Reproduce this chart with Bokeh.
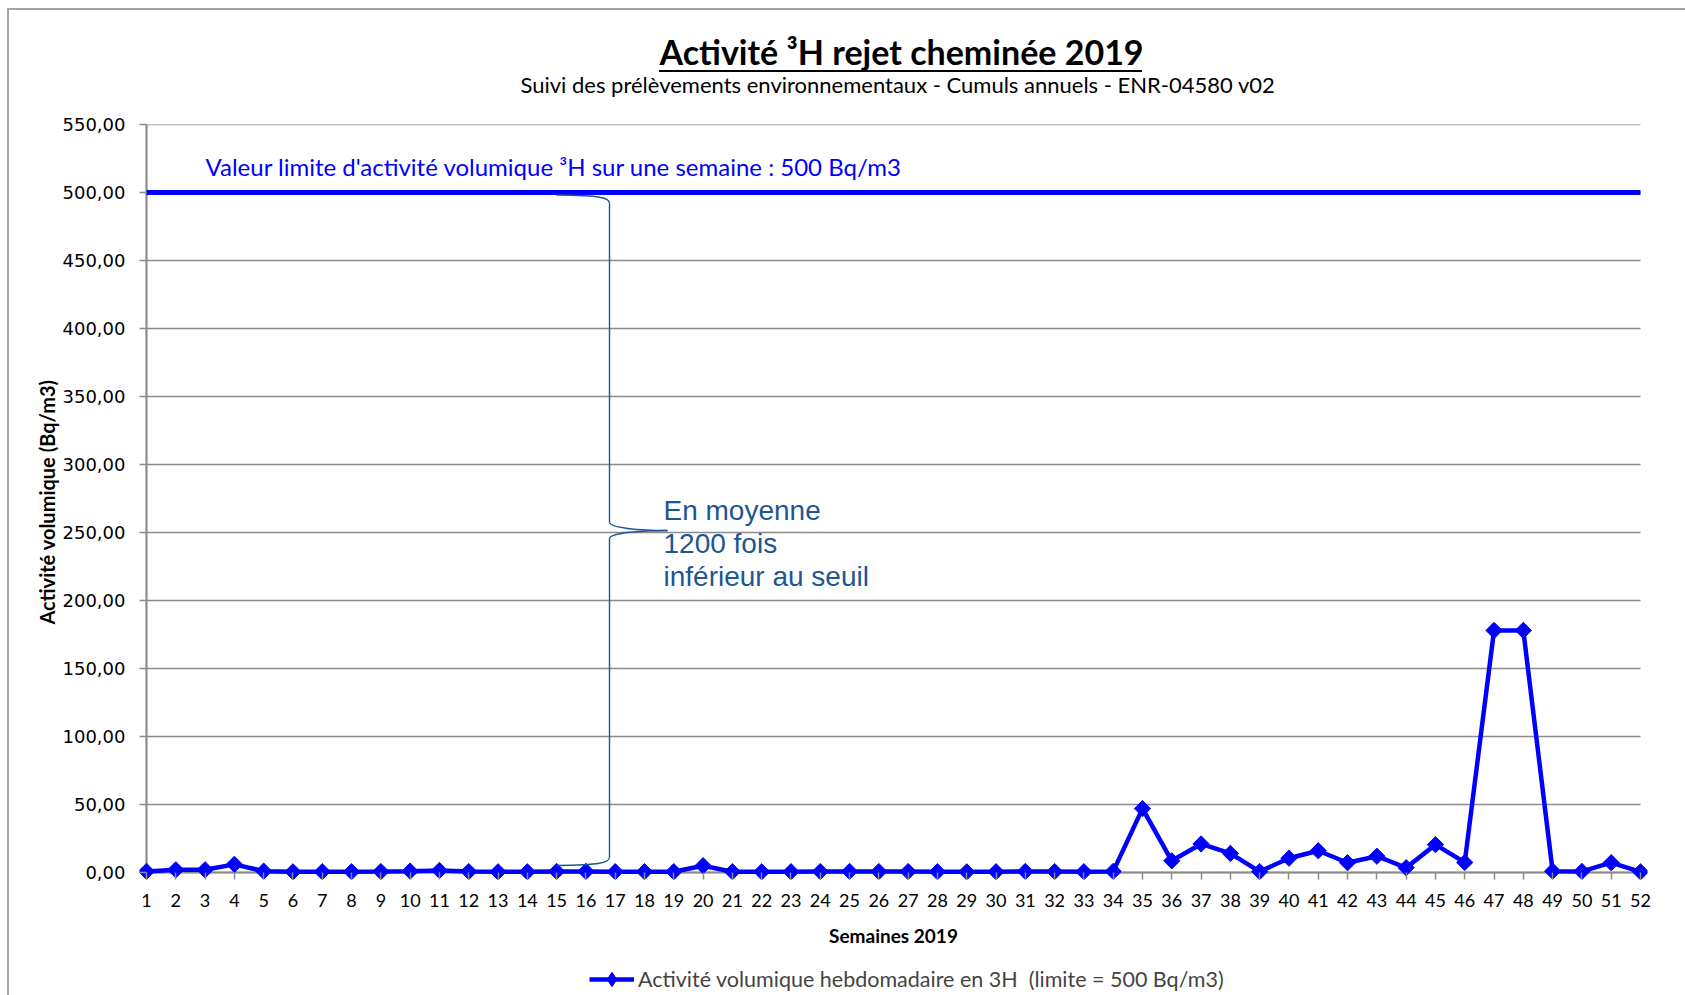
import math
from bokeh.plotting import figure
from bokeh.layouts import column
from bokeh.models import Range1d, FixedTicker, Label, Legend, LegendItem, Title
from bokeh.embed import file_html
from bokeh.resources import INLINE

# ---------------- data ----------------
weeks = list(range(1, 53))
activity = [0.8, 2.0, 2.0, 6.0, 1.0, 0.5, 0.6, 0.6, 0.7, 1.0,
            1.5, 0.7, 0.5, 0.5, 0.8, 0.8, 0.6, 0.6, 0.6, 5.0,
            0.6, 0.5, 0.6, 0.7, 0.8, 0.7, 0.7, 0.6, 0.5, 0.6,
            0.8, 0.7, 0.6, 0.8, 47.0, 8.6, 21.0, 14.0, 0.7, 10.5,
            16.0, 7.2, 12.0, 3.5, 20.5, 7.4, 178.0, 178.0, 1.0, 0.8,
            7.2, 0.5]
limit_value = 500
y_ticks = [0, 50, 100, 150, 200, 250, 300, 350, 400, 450, 500, 550]
y_tick_labels = ["0,00", "50,00", "100,00", "150,00", "200,00", "250,00",
                 "300,00", "350,00", "400,00", "450,00", "500,00", "550,00"]
x_tick_labels = [str(w) for w in weeks]

title_text = "Activité ³H rejet cheminée 2019"
subtitle_text = "Suivi des prélèvements environnementaux - Cumuls annuels - ENR-04580 v02"
limit_text = "Valeur limite d'activité volumique ³H  sur une semaine : 500 Bq/m3"
note_lines = ["En moyenne", "1200 fois", "inférieur au seuil"]
legend_text = "Activité volumique hebdomadaire en 3H  (limite = 500 Bq/m3)"
x_title = "Semaines 2019"
y_title = "Activité volumique (Bq/m3)"

# ---------------- layout ----------------
W, H = 1685, 995
H_MAIN = 955                 # main chart; the legend strip fills the rest
PX_X1 = 146.0      # pixel of week 1
PX_PER_WEEK = 29.294
PX_Y0 = 872.0      # pixel of value 0
PX_PER_UNIT = 1.36
PAD = 7            # px so that edge markers are not clipped

def wx(px):
    return 1 + (px - PX_X1) / PX_PER_WEEK

def vy(py):
    return (PX_Y0 - py) / PX_PER_UNIT

frame_left = int(round(PX_X1 - PAD))
frame_right = int(round(PX_X1 + 51 * PX_PER_WEEK + PAD))
frame_top = int(round(PX_Y0 - 550 * PX_PER_UNIT))
frame_bottom = int(round(PX_Y0 + PAD))

x_lo, x_hi = wx(frame_left), wx(frame_right)
y_lo, y_hi = vy(frame_bottom), vy(frame_top)

BLUE = "#0000FF"
GRID = "#8c8c8c"
NOTE = "#1d5694"
FONT = "Lato"
BORDER = "#a6a6a6"

p = figure(width=W, height=H_MAIN, output_backend="svg", toolbar_location=None, title=None,
           x_range=Range1d(x_lo, x_hi), y_range=Range1d(y_lo, y_hi),
           min_border_left=frame_left, min_border_right=W - frame_right,
           min_border_top=frame_top, min_border_bottom=H_MAIN - frame_bottom)
p.outline_line_color = None
p.background_fill_color = "white"
p.border_fill_alpha = 0
p.xgrid.visible = False
p.ygrid.visible = False

# outer chart frame (left & top) and title underline, painted behind the transparent border area
p.styles = {
    "background-color": "white",
    "background-image": "linear-gradient(%s,%s), linear-gradient(%s,%s), linear-gradient(#000,#000)"
                        % (BORDER, BORDER, BORDER, BORDER),
    "background-size": "2px %dpx, %dpx 2px, 483px 2px" % (H, W),
    "background-position": "7px 8px, 7px 8px, 659px 70px",
    "background-repeat": "no-repeat",
}

# gridlines and axis lines (limited to the category span)
p.segment(x0=weeks[0], x1=weeks[-1], y0=y_ticks, y1=y_ticks,
          line_color=GRID, line_width=1.4, level="underlay")
p.segment(x0=[weeks[0]], x1=[weeks[0]], y0=[0], y1=[y_ticks[-1]],
          line_color=GRID, line_width=2.2, level="underlay")
p.segment(x0=[weeks[0]], x1=[weeks[-1]], y0=[0], y1=[0],
          line_color=GRID, line_width=2.2, level="underlay")

# axes
yax = p.yaxis[0]
yax.ticker = FixedTicker(ticks=y_ticks)
yax.major_label_overrides = dict(zip(y_ticks, y_tick_labels))
yax.major_label_text_font = "DejaVu Sans"
yax.major_label_text_font_size = "18px"
yax.major_label_text_color = "black"
yax.axis_line_color = None
yax.major_tick_line_color = GRID
yax.major_tick_line_width = 1.5
yax.major_tick_out = 0
yax.major_tick_in = PAD
yax.minor_tick_line_color = None
yax.major_label_standoff = 14
yax.axis_label = y_title
yax.axis_label_text_font = FONT
yax.axis_label_text_font_style = "bold"
yax.axis_label_text_font_size = "20px"
yax.axis_label_text_color = "black"
yax.axis_label_standoff = 1

xax = p.xaxis[0]
xax.ticker = FixedTicker(ticks=weeks)
xax.major_label_overrides = dict(zip(weeks, x_tick_labels))
xax.major_label_text_font = FONT
xax.major_label_text_font_size = "18px"
xax.major_label_text_color = "black"
xax.axis_line_color = None
xax.major_tick_line_color = GRID
xax.major_tick_line_width = 1.5
xax.major_tick_out = 0
xax.major_tick_in = PAD
xax.minor_tick_line_color = None
xax.major_label_standoff = 14
xax.axis_label = x_title
xax.axis_label_text_font = FONT
xax.axis_label_text_font_style = "bold"
xax.axis_label_text_font_size = "19px"
xax.axis_label_text_color = "black"
xax.axis_label_standoff = 14

# limit line
p.line([weeks[0], weeks[-1]], [limit_value, limit_value], line_color=BLUE, line_width=5)

# series
p.line(weeks, activity, line_color=BLUE, line_width=4.5)
p.scatter(weeks, activity, marker="square", angle=math.pi / 4, size=11.5,
          fill_color=BLUE, line_color=BLUE)

# brace annotation
bx = wx(609)          # vertical stroke
tip_l = wx(556)       # left tips
tip_r = wx(667)       # middle tip
top_v, bot_v, mid_v = vy(194.5), vy(865), vy(530)
cv = 6.0
p.bezier(x0=[tip_l, bx, tip_r, bx], y0=[top_v, mid_v + cv, mid_v, bot_v + cv],
         x1=[bx, tip_r, bx, tip_l], y1=[top_v - cv, mid_v, mid_v - cv, bot_v],
         cx0=[bx - 0.3, bx, bx + 1.0, bx], cy0=[top_v - 0.3, mid_v + 2, mid_v, bot_v + 2],
         cx1=[bx, bx + 1.0, bx, bx - 0.3], cy1=[top_v - 2, mid_v, mid_v - 2, bot_v + 0.3],
         line_color=NOTE, line_width=1.4)
p.segment(x0=[bx, bx], x1=[bx, bx], y0=[top_v - cv, mid_v - cv], y1=[mid_v + cv, bot_v + cv],
          line_color=NOTE, line_width=1.4)

for i, t in enumerate(note_lines):
    p.add_layout(Label(x=wx(663), y=vy(510 + 33 * i), text=t, text_font="Liberation Sans",
                       text_font_size="28px", text_color=NOTE, text_baseline="alphabetic",
                       text_align="left"))

# limit text
p.add_layout(Label(x=wx(205), y=vy(166), text=limit_text, text_font=FONT,
                   text_font_size="24px", text_color=BLUE, text_baseline="middle",
                   text_align="left"))

# subtitle (closest to the frame) then title
p.add_layout(Title(text=subtitle_text, align="left", offset=520 - frame_left, standoff=54,
                   text_font=FONT, text_font_size="22px", text_font_style="normal",
                   text_color="black"), "above")
p.add_layout(Title(text=title_text, align="left", offset=659 - frame_left, standoff=-60,
                   text_font=FONT, text_font_size="34px", text_font_style="bold",
                   text_color="black"), "above")

# ---------------- legend strip ----------------
H_LEG = H - H_MAIN
leg = figure(width=W, height=H_LEG, output_backend="svg", toolbar_location=None, title=None,
             x_axis_location=None, y_axis_location=None, min_border=0,
             x_range=Range1d(-10, -9), y_range=Range1d(-10, -9))
leg.outline_line_color = None
leg.xgrid.visible = False
leg.ygrid.visible = False
leg.background_fill_alpha = 0
leg.border_fill_alpha = 0
leg.styles = {
    "background-color": "white",
    "background-image": "linear-gradient(%s,%s)" % (BORDER, BORDER),
    "background-size": "2px %dpx" % H_LEG,
    "background-position": "7px 0px",
    "background-repeat": "no-repeat",
}
lr_line = leg.line(weeks, activity, line_color=BLUE, line_width=4.5)
lr_pts = leg.scatter(weeks, activity, marker="diamond", size=17,
                     fill_color=BLUE, line_color=BLUE)
legend = Legend(items=[LegendItem(label=legend_text, renderers=[lr_line, lr_pts])],
                location=(589 - frame_left, -2), orientation="horizontal",
                glyph_width=45, glyph_height=36, label_height=22,
                label_text_font=FONT, label_text_font_size="21.5px",
                label_standoff=4, padding=0, margin=0, spacing=0,
                border_line_color=None, background_fill_alpha=0)
leg.add_layout(legend)

open("out.html", "w").write(file_html(column(p, leg, spacing=0), INLINE))
